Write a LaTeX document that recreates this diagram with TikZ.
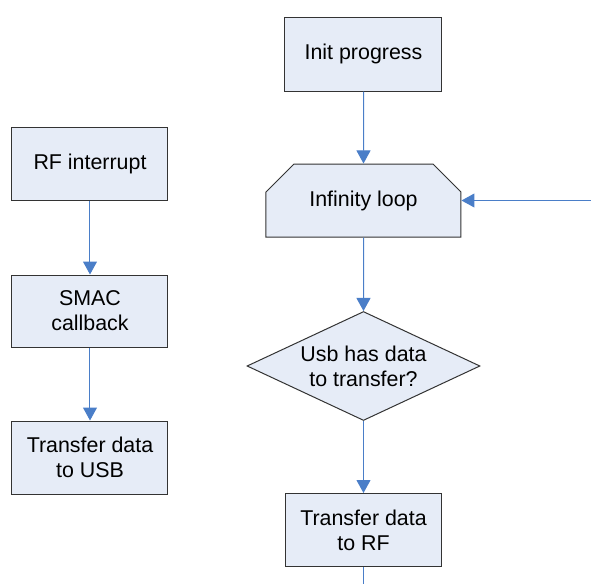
\documentclass[tikz,border=0pt]{standalone}
\usepackage{fontspec}
\setmainfont{Liberation Sans}
\usetikzlibrary{arrows.meta, positioning, shapes.geometric, shapes.misc}
\definecolor{boxfill}{HTML}{E6ECF7}
\definecolor{linkblue}{HTML}{4A7EC8}

\begin{document}
\begin{tikzpicture}[x=0.5pt, y=-0.5pt,
    box/.style={draw=black!80, fill=boxfill, line width=0.5pt, inner sep=0pt,
        align=center, font=\fontsize{10.7}{12.5}\selectfont},
    flow/.style={draw=linkblue, line width=0.5pt, -{Triangle[width=7pt, length=6.5pt]}}]
    \useasboundingbox (0,0) rectangle (591,584);
    \node[box, minimum width=78.5pt, minimum height=37pt] (init) at (363.5,54) {Init progress};
    \node[box, chamfered rectangle, chamfered rectangle xsep=9.5pt, chamfered rectangle ysep=9pt,
        chamfered rectangle corners={north west, north east},
        minimum width=97.5pt, minimum height=36.5pt] (loop) at (363.5,200.5) {Infinity loop};
    \node[box, diamond, aspect=2.14, minimum width=116.5pt, minimum height=54.5pt] (check) at (363.5,366) {Usb has data\\to transfer?};
    \node[box, minimum width=78pt, minimum height=36.5pt] (torf) at (363.5,530) {Transfer data\\to RF};
    \node[box, minimum width=78pt, minimum height=36.5pt] (rfint) at (90,163.5) {RF interrupt};
    \node[box, minimum width=78pt, minimum height=36pt] (smac) at (90,311) {SMAC\\callback};
    \node[box, minimum width=78pt, minimum height=36.5pt] (tousb) at (90,457.5) {Transfer data\\to USB};
    \coordinate (back) at (591,200.5);
    \coordinate (out) at (363.5,584);
    \draw[flow] (init) -- (loop);
    \draw[flow] (back) -- (loop.east);
    \draw[flow] (loop) -- (check);
    \draw[flow] (check) -- (torf);
    \draw[draw=linkblue, line width=0.5pt] (torf) -- (out);
    \draw[flow] (rfint) -- (smac);
    \draw[flow] (smac) -- (tousb);
\end{tikzpicture}
\end{document}
